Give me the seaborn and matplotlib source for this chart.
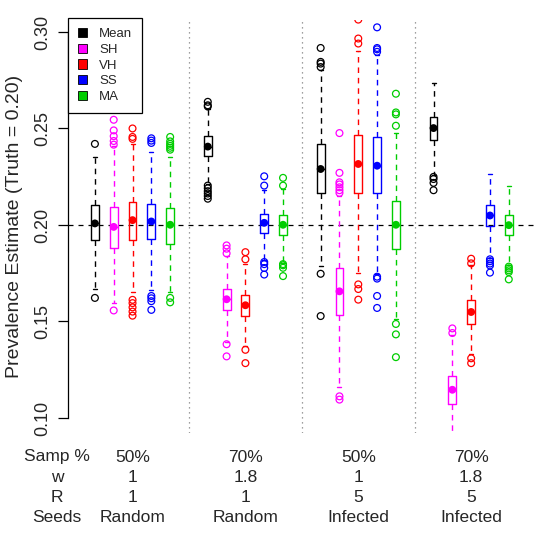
import seaborn as sns
import matplotlib.pyplot as plt
from matplotlib.patches import Patch
from matplotlib.transforms import blended_transform_factory
import pandas as pd

methods = ["Mean", "SH", "VH", "SS", "MA"]
colors = ["black", "#FF00FF", "#FF0000", "#0000FF", "#00CD00"]

# box stats, 4 scenarios x 5 methods (Mean, SH, VH, SS, MA)
whisker_low = [0.1667, 0.1594, 0.1653, 0.1663, 0.1653,
               0.2214, 0.1395, 0.1374, 0.1818, 0.1805,
               0.1788, 0.1159, 0.1751, 0.1746, 0.1512,
               0.2261, 0.0850, 0.1332, 0.1828, 0.1791]
box_q1 = [0.1921, 0.1880, 0.1921, 0.1925, 0.1899,
          0.2359, 0.1560, 0.1529, 0.1960, 0.1949,
          0.2163, 0.1532, 0.2163, 0.2166, 0.1873,
          0.2442, 0.1072, 0.1487, 0.1994, 0.1946]
box_mid = [0.2008, 0.1990, 0.2025, 0.2018, 0.2001,
           0.2406, 0.1615, 0.1584, 0.2011, 0.2001,
           0.2290, 0.1656, 0.2316, 0.2307, 0.2001,
           0.2502, 0.1146, 0.1549, 0.2049, 0.1999]
box_q3 = [0.2101, 0.2094, 0.2121, 0.2111, 0.2087,
          0.2459, 0.1670, 0.1639, 0.2059, 0.2049,
          0.2420, 0.1779, 0.2466, 0.2456, 0.2123,
          0.2559, 0.1219, 0.1611, 0.2104, 0.2053]
whisker_high = [0.2352, 0.2407, 0.2421, 0.2380, 0.2352,
                0.2602, 0.1839, 0.1796, 0.2183, 0.2187,
                0.2804, 0.2149, 0.2902, 0.2883, 0.2476,
                0.2735, 0.1429, 0.1794, 0.2265, 0.2201]
outliers = [
    [0.2420, 0.1622],
    [0.2545, 0.2490, 0.2460, 0.2435, 0.2416, 0.1557],
    [0.2500, 0.2456, 0.2446, 0.1612, 0.1595, 0.1573, 0.1551, 0.1530],
    [0.2449, 0.2437, 0.2425, 0.1632, 0.1620, 0.1605, 0.1560],
    [0.2456, 0.2433, 0.2420, 0.2410, 0.2400, 0.2390, 0.1622, 0.1599],
    [0.2638, 0.2620, 0.2614, 0.2204, 0.2190, 0.2175, 0.2163, 0.2150, 0.2136],
    [0.1894, 0.1877, 0.1853, 0.1382, 0.1319],
    [0.1859, 0.1822, 0.1353, 0.1284],
    [0.2252, 0.2204, 0.1808, 0.1797, 0.1777, 0.1743],
    [0.2244, 0.2204, 0.1797, 0.1791, 0.1778, 0.1735],
    [0.2917, 0.2845, 0.2836, 0.2818, 0.1747, 0.1528],
    [0.2476, 0.2270, 0.2221, 0.2210, 0.2195, 0.2180, 0.2166, 0.1112, 0.1095],
    [0.3064, 0.2966, 0.2940, 0.1692, 0.1668, 0.1613],
    [0.3024, 0.2917, 0.2910, 0.2897, 0.1732, 0.1722, 0.1632, 0.1570],
    [0.2680, 0.2583, 0.2573, 0.2514, 0.1487, 0.1433, 0.1315],
    [0.2249, 0.2238, 0.2218, 0.2180],
    [0.1464, 0.1440],
    [0.1825, 0.1801, 0.1309, 0.1284],
    [0.1822, 0.1812, 0.1800, 0.1790, 0.1753],
    [0.1784, 0.1775, 0.1765, 0.1756, 0.1718],
]

row_labels = ["Samp %", "w", "R", "Seeds"]
samp_pct = ["50%", "70%", "50%", "70%"]
w_vals = ["1", "1.8", "1", "1.8"]
r_vals = ["1", "1", "5", "5"]
seeds = ["Random", "Random", "Infected", "Infected"]

sns.set_style("white")
plt.rcParams["font.family"] = ["Liberation Sans", "DejaVu Sans"]

box_rows, mid_rows, out_rows = [], [], []
for i in range(20):
    g, k = divmod(i, 5)
    pos = g * 6 + k + 1
    for v in [whisker_low[i], box_q1[i], box_mid[i], box_q3[i], whisker_high[i]]:
        box_rows.append({"pos": pos, "method": methods[k], "value": v})
    mid_rows.append({"pos": pos, "method": methods[k], "value": box_mid[i]})
    for v in outliers[i]:
        out_rows.append({"pos": pos, "method": methods[k], "value": v})
box_df = pd.DataFrame(box_rows)
mid_df = pd.DataFrame(mid_rows)
out_df = pd.DataFrame(out_rows)

fig = plt.figure(figsize=(5.54, 5.54), dpi=100)
ax = fig.add_axes([68 / 554, 1 - 433 / 554, 469 / 554, 413 / 554])

ax.axhline(0.20, color="black", lw=0.9, ls=(0, (4, 4)), zorder=1)
for xv in [6, 12, 18]:
    ax.axvline(xv, color="gray", lw=0.9, ls=(0, (1, 3)), zorder=1)

sns.boxplot(data=box_df, x="pos", y="value", hue="method", hue_order=methods,
            palette=colors, native_scale=True, dodge=False, fill=False,
            whis=(0, 100), showfliers=False, width=0.42, linewidth=1,
            whiskerprops={"linestyle": (0, (4, 3.5))}, legend=False, ax=ax)

sns.scatterplot(data=out_df, x="pos", y="value", hue="method", hue_order=methods,
                palette=colors, s=24, linewidth=0.9, legend=False, ax=ax, zorder=3)
pts = ax.collections[-1]
pts.set_edgecolors(pts.get_facecolors())
pts.set_facecolor("none")

sns.scatterplot(data=mid_df, x="pos", y="value", hue="method", hue_order=methods,
                palette=colors, s=32, linewidth=0, legend=False, ax=ax, zorder=4)

ax.set_xlim(-0.43, 24.5)
ax.set_ylim(0.0922, 0.3062)
ax.set_yticks([0.10, 0.15, 0.20, 0.25, 0.30])
ax.set_yticklabels(["0.10", "0.15", "0.20", "0.25", "0.30"], rotation=90,
                   va="center", fontsize=13)
ax.tick_params(axis="y", length=7, width=0.9, pad=5, left=True, color="black")
ax.set_xticks([])
ax.set_xlabel("")
ax.set_ylabel("Prevalence Estimate (Truth = 0.20)", fontsize=14)
ax.yaxis.set_label_coords(-0.097, 0.5)
sns.despine(ax=ax, bottom=True)
ax.spines["left"].set_bounds(0.10, 0.30)
ax.spines["left"].set_color("black")
ax.spines["left"].set_linewidth(0.9)

trans = blended_transform_factory(ax.transData, fig.transFigure)
row_y = [457, 478, 498, 518]
for r, lab in enumerate(row_labels):
    ax.text(-1.0, 1 - row_y[r] / 554, lab, transform=trans, ha="center",
            va="center", fontsize=12.5, clip_on=False)
for g in range(4):
    xc = g * 6 + 3
    for r, vals in enumerate([samp_pct, w_vals, r_vals, seeds]):
        ax.text(xc, 1 - row_y[r] / 554, vals[g], transform=trans, ha="center",
                va="center", fontsize=12.5, clip_on=False)

handles = [Patch(facecolor=c, edgecolor="black", linewidth=0.6) for c in colors]
leg = ax.legend(handles, methods, loc="upper left", bbox_to_anchor=(0, 1.005),
                borderaxespad=0, fontsize=9.5, frameon=True, fancybox=False,
                handlelength=0.7, handleheight=0.7, handletextpad=0.9,
                borderpad=0.75, labelspacing=0.27)
leg.get_frame().set_edgecolor("black")
leg.get_frame().set_linewidth(0.9)
leg.get_frame().set_alpha(1)

fig.savefig("out.png", dpi=100)
